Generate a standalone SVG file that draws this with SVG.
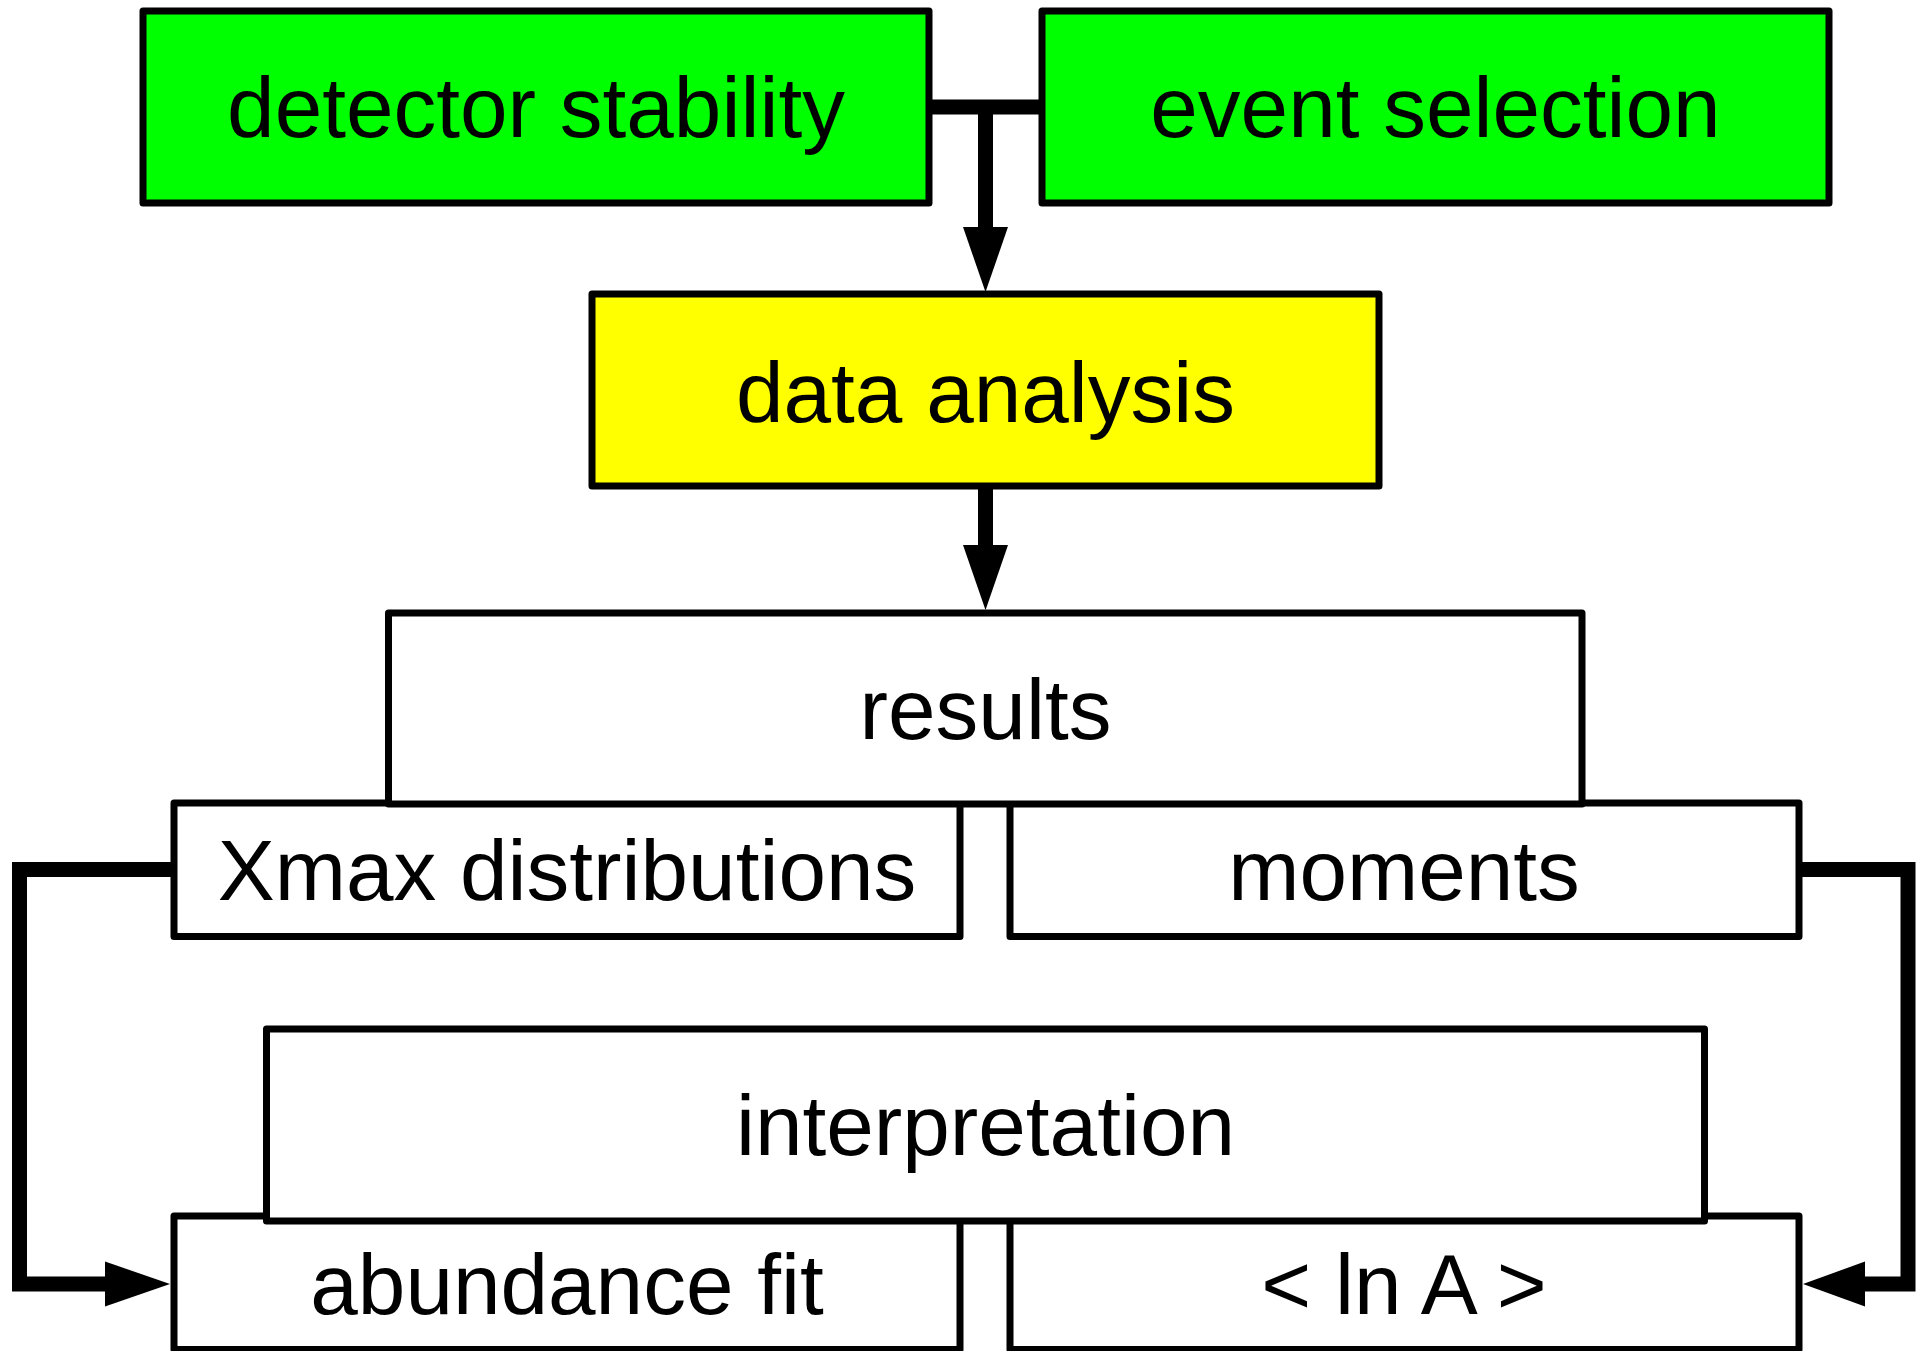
<svg xmlns="http://www.w3.org/2000/svg" width="1922" height="1351" viewBox="0 0 1922 1351">
<style>
.box{stroke:#000;stroke-width:7;stroke-linejoin:round}
.white{fill:#fff}
.green{fill:#00ff00}
.yellow{fill:#ffff00}
.lbl{font-family:"Liberation Sans",Arial,sans-serif;font-size:85.5px;fill:#000;text-anchor:middle}
.conn{fill:none;stroke:#000;stroke-width:15;stroke-linejoin:miter}
.head{fill:#000;stroke:none}
</style>
<rect width="1922" height="1351" fill="#fff"/>
<g id="connectors">
<path class="conn" d="M929,107 H1042 M985.5,107 V228"/>
<polygon class="head" points="963,227 1008,227 985.5,292"/>
<path class="conn" d="M985.5,486 V546"/>
<polygon class="head" points="963,545 1008,545 985.5,610"/>
<path class="conn" d="M174,869.5 H19.5 V1284 H106"/>
<polygon class="head" points="105,1261.5 105,1306.5 170,1284"/>
<path class="conn" d="M1799,869.5 H1908 V1284 H1864"/>
<polygon class="head" points="1865,1261.5 1865,1306.5 1803,1284"/>
</g>
<g id="detector-stability">
<rect class="box green" x="143" y="11" width="786" height="192"/>
<text class="lbl" x="536" y="137">detector stability</text>
</g>
<g id="event-selection">
<rect class="box green" x="1042" y="11" width="787" height="192"/>
<text class="lbl" x="1435.5" y="137">event selection</text>
</g>
<g id="data-analysis">
<rect class="box yellow" x="592" y="294" width="787" height="192"/>
<text class="lbl" x="985.5" y="422">data analysis</text>
</g>
<g id="xmax-distributions">
<rect class="box white" x="174" y="803" width="786" height="133.5"/>
<text class="lbl" x="567" y="900">Xmax distributions</text>
</g>
<g id="moments">
<rect class="box white" x="1010" y="803" width="789" height="133.5"/>
<text class="lbl" x="1404" y="900">moments</text>
</g>
<g id="results">
<rect class="box white" x="388.5" y="613" width="1193.5" height="191"/>
<text class="lbl" x="985.5" y="739">results</text>
</g>
<g id="abundance-fit">
<rect class="box white" x="174" y="1216" width="786" height="133.5"/>
<text class="lbl" x="567" y="1314">abundance fit</text>
</g>
<g id="ln-a">
<rect class="box white" x="1010" y="1216" width="789" height="133.5"/>
<text class="lbl" x="1404" y="1314">&lt; ln A &gt;</text>
</g>
<g id="interpretation">
<rect class="box white" x="266.5" y="1029" width="1438" height="192"/>
<text class="lbl" x="985.5" y="1155">interpretation</text>
</g>
</svg>
